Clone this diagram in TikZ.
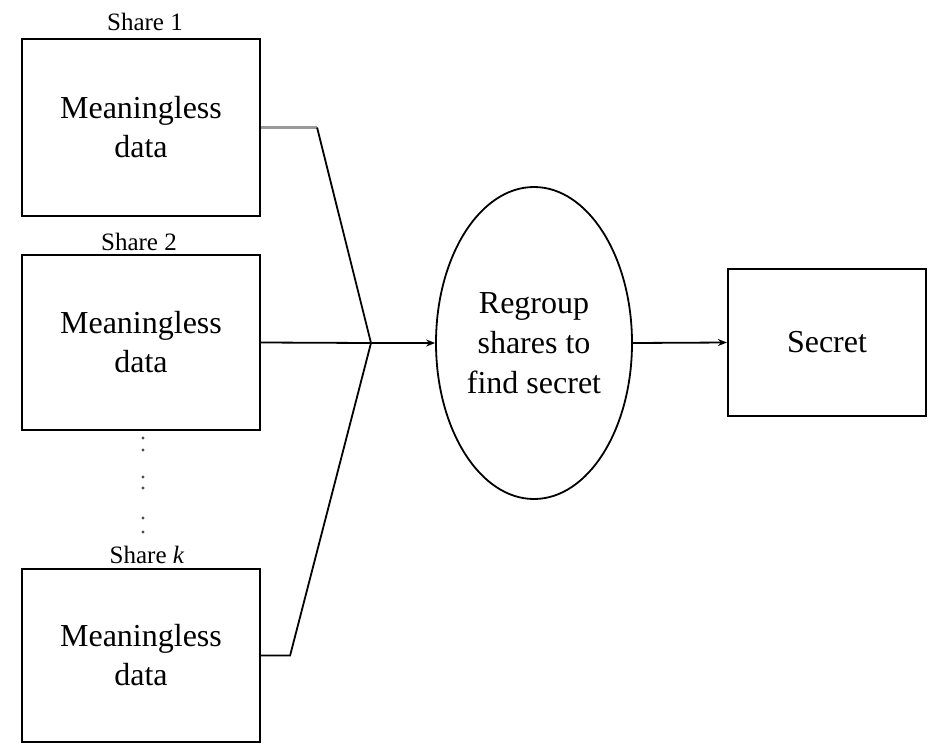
\documentclass[tikz,border=0pt]{standalone}
\usepackage{fontspec}
\setmainfont{Liberation Serif}
\usetikzlibrary{shapes.geometric,arrows.meta}
\begin{document}
\begin{tikzpicture}[x=1pt,y=-1pt,
  databox/.style={draw,line width=2.2pt,minimum width=238pt,inner sep=0pt,
    align=center,font=\fontsize{32}{39}\selectfont},
  sharelbl/.style={anchor=base,inner sep=0pt,font=\fontsize{25}{30}\selectfont},
  link/.style={line width=1.8pt},
  arr/.style={link,-{Stealth[length=9pt,width=7pt]}},
  dot/.style={fill=black!70,draw=none}]
  \useasboundingbox (0,0) rectangle (933,744);

  % share boxes
  \node[databox,minimum height=177pt] (s1) at (141,127.5) {Meaningless\\data};
  \node[databox,minimum height=175pt] (s2) at (141,342.5) {Meaningless\\data};
  \node[databox,minimum height=173pt] (sk) at (141,655.5) {Meaningless\\data};

  \node[sharelbl] (l1) at (145,30) {Share 1};
  \node[sharelbl] (l2) at (139,250) {Share 2};
  \node[sharelbl] (lk) at (147,563) {Share \textit{k}};

  % vertical ellipsis between share 2 and share k
  \foreach \yy in {438,450,477,488,518,532}
    \fill[dot] (143,\yy) circle (1.7pt);

  % combining step and result
  \node[draw,ellipse,line width=1.8pt,minimum width=196pt,minimum height=312pt,
        inner sep=0pt,align=center,font=\fontsize{32}{40}\selectfont]
        (rg) at (534,343) {Regroup\\shares to\\find secret};
  \node[draw,line width=2.2pt,minimum width=198pt,minimum height=147pt,
        inner sep=0pt,font=\fontsize{32}{39}\selectfont] (sec) at (827,342.5) {Secret};

  % connectors
  \coordinate (j) at (371,343);
  \draw[link,draw=black!40,line width=2.4pt] (s1.east) -- ++(56,0) coordinate (c1);
  \draw[link] (c1) -- (j);
  \draw[link] (sk.east) -- ++(29,0) -- (j);
  \draw[link] (s2.east) -- (j);
  \draw[arr] (j) -- (rg.west);
  \draw[arr] (rg.east) -- (sec.west);
\end{tikzpicture}
\end{document}
